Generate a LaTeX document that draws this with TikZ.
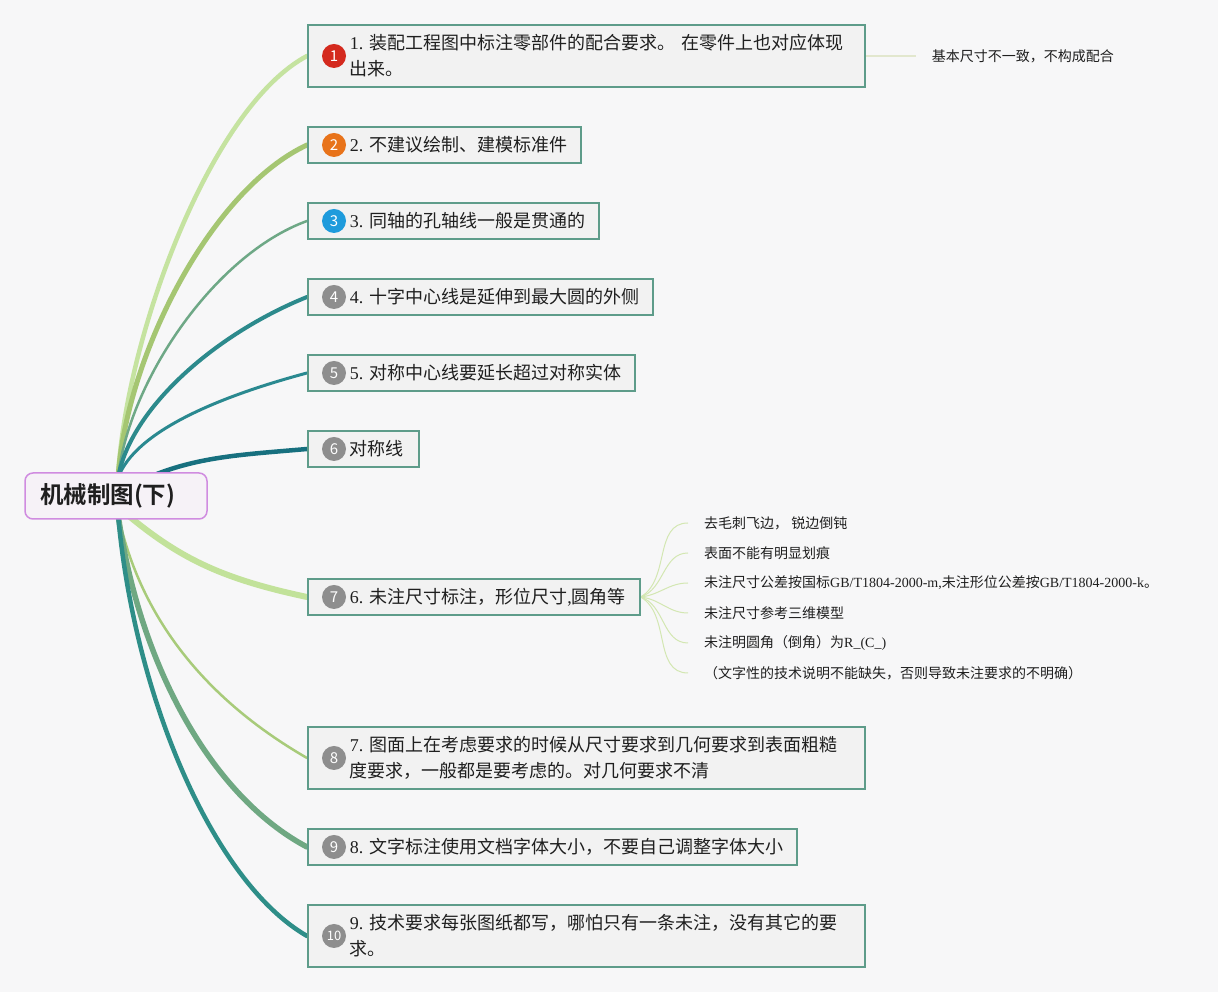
\documentclass[tikz,border=0pt]{standalone}
\usepackage{fontspec}
\setmainfont{Noto Sans CJK SC}[BoldFont={Noto Sans CJK SC Bold}]
\newfontfamily\lat{Liberation Serif}
\usetikzlibrary{positioning}
\usetikzlibrary{backgrounds}
\definecolor{bgc}{HTML}{F7F7F8}
\definecolor{txt}{HTML}{1F1F1F}
\definecolor{boxline}{HTML}{5E9C8A}
\definecolor{boxfill}{HTML}{F2F2F2}
\definecolor{rootline}{HTML}{D08CE0}
\definecolor{rootfill}{HTML}{F6F2F7}
\definecolor{cA}{HTML}{C5E3A0}
\definecolor{cB}{HTML}{A5C672}
\definecolor{cC}{HTML}{6EA886}
\definecolor{cD}{HTML}{2C8A8C}
\definecolor{cE}{HTML}{2A8990}
\definecolor{cF}{HTML}{17707F}
\definecolor{cG}{HTML}{C2E29A}
\definecolor{cH}{HTML}{A8CB7A}
\definecolor{cI}{HTML}{6FA882}
\definecolor{cJ}{HTML}{2E8E88}
\definecolor{subc}{HTML}{D3E7B2}
\definecolor{leafc}{HTML}{E2E7CE}
\definecolor{bRed}{HTML}{D42A1E}
\definecolor{bOrange}{HTML}{E8731A}
\definecolor{bBlue}{HTML}{1E9BDC}
\definecolor{bGray}{HTML}{8E8E8E}
\newcommand\pad{\hspace*{27pt}}
\tikzset{
	item/.style={draw=boxline,fill=boxfill,line width=1.6pt,anchor=west,text width=#1,minimum height=36pt,inner xsep=15pt,inner ysep=2pt,align=left,text=txt,font=\fontsize{18}{26}\selectfont},
	tall/.style={minimum height=62pt},
	badge/.style={circle,fill=#1,text=white,minimum size=24pt,inner sep=0pt,font=\fontsize{15}{15}\selectfont},
	leaf/.style={anchor=west,inner xsep=16pt,inner ysep=2pt,text=txt,font=\fontsize{14}{14}\selectfont},
	br/.style={line cap=round},
	sub/.style={subc,line width=1pt}
}

\begin{document}
\begin{tikzpicture}[x=1pt,y=1pt]
	\useasboundingbox (0,0) rectangle (1218,992);
	\node[draw=rootline,fill=rootfill,line width=1.5pt,rounded corners=8pt,text width=152pt,minimum height=46pt,inner xsep=15pt,align=left,text=txt,font=\fontsize{23.5}{24}\selectfont\bfseries] (root) at (116,496) {机械制图(下)};
	% main items
	\node[item=527pt,tall] (b1) at (307,936) {\pad{\lat 1.~}装配工程图中标注零部件的配合要求。~在零件上也对应体现\\\pad 出来。};
	\node[item=243pt] (b2) at (307,847) {\pad{\lat 2.~}不建议绘制、建模标准件};
	\node[item=261pt] (b3) at (307,771) {\pad{\lat 3.~}同轴的孔轴线一般是贯通的};
	\node[item=315pt] (b4) at (307,695) {\pad{\lat 4.~}十字中心线是延伸到最大圆的外侧};
	\node[item=297pt] (b5) at (307,619) {\pad{\lat 5.~}对称中心线要延长超过对称实体};
	\node[item=81pt] (b6) at (307,543) {\pad 对称线};
	\node[item=302pt] (b7) at (307,395) {\pad{\lat 6.~}未注尺寸标注，形位尺寸{\lat ,}圆角等};
	\node[item=527pt,tall] (b8) at (307,234) {\pad{\lat 7.~}图面上在考虑要求的时候从尺寸要求到几何要求到表面粗糙\\\pad 度要求，一般都是要考虑的。对几何要求不清};
	\node[item=459pt] (b9) at (307,145) {\pad{\lat 8.~}文字标注使用文档字体大小，不要自己调整字体大小};
	\node[item=527pt,tall] (b10) at (307,56) {\pad{\lat 9.~}技术要求每张图纸都写，哪怕只有一条未注，没有其它的要\\\pad 求。};
	% badges
	\foreach \i/\c in {1/bRed,2/bOrange,3/bBlue,4/bGray,5/bGray,6/bGray,7/bGray,8/bGray,9/bGray}
		\node[badge=\c] (k\i) at ([xshift=27pt]b\i.west) {\i};
	\node[badge=bGray,font=\fontsize{13}{13}\selectfont] (k10) at ([xshift=27pt]b10.west) {10};
	% leaves
	\node[leaf,right=50pt of b1] (n1) {基本尺寸不一致，不构成配合};
	\foreach \t [count=\i] in {{去毛刺飞边，~锐边倒钝},{表面不能有明显划痕},{未注尺寸公差按国标{\lat GB/T1804-2000-m,}未注形位公差按{\lat GB/T1804-2000-k}。},{未注尺寸参考三维模型},{未注明圆角（倒角）为{\lat R\_(C\_)}},{（文字性的技术说明不能缺失，否则导致未注要求的不明确）}}
		\node[leaf] (s\i) at (688,499-30*\i) {\t};
	\coordinate (up) at (118,514);
	\coordinate (up6) at (138,510);
	\coordinate (dn) at (118,478);
	\coordinate (dn7) at (124,480);
	\begin{scope}[on background layer]
		\fill[bgc] (0,0) rectangle (1218,992);
		\draw[br,cA,line width=4.5pt] (up) .. controls +(87:140pt) and +(208:110pt) .. (b1.west);
		\draw[br,cB,line width=5pt] (up) .. controls +(86:125pt) and +(205:105pt) .. (b2.west);
		\draw[br,cC,line width=2.5pt] (up) .. controls +(84:95pt) and +(200:100pt) .. (b3.west);
		\draw[br,cD,line width=4pt] (up) .. controls +(80:70pt) and +(202:100pt) .. (b4.west);
		\draw[br,cE,line width=3pt] (up) .. controls +(70:50pt) and +(195:90pt) .. (b5.west);
		\draw[br,cF,line width=4.5pt] (up6) .. controls +(25:60pt) and +(185:70pt) .. (b6.west);
		\draw[br,cG,line width=6pt] (dn7) .. controls +(-40:70pt) and +(168:90pt) .. (b7.west);
		\draw[br,cH,line width=2.5pt] (dn) .. controls +(-78:120pt) and +(150:100pt) .. (b8.west);
		\draw[br,cI,line width=5.5pt] (dn) .. controls +(-82:150pt) and +(152:110pt) .. (b9.west);
		\draw[br,cJ,line width=4.5pt] (dn) .. controls +(-85:180pt) and +(150:110pt) .. (b10.west);
		\draw[leafc,line width=1.5pt] (b1.east) -- (n1.west);
		\foreach \i in {1,...,6} {
			\pgfmathsetmacro\oa{(3.5-\i)*12}
			\draw[sub] (b7.east) to[out=\oa,in=180] (s\i.west);
		}
	\end{scope}
\end{tikzpicture}
\end{document}
